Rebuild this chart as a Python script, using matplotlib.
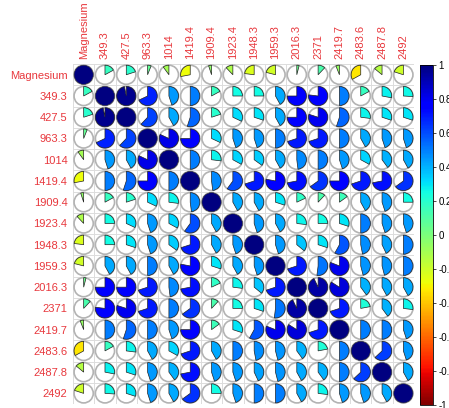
import numpy as np
import matplotlib
matplotlib.use('Agg')
import matplotlib.pyplot as plt
from matplotlib.patches import Wedge, Circle
from matplotlib.colors import Normalize
from matplotlib.cm import ScalarMappable

plt.rcParams['font.family'] = ['Liberation Sans', 'DejaVu Sans']

labels = ['Magnesium', '349.3', '427.5', '963.3', '1014', '1419.4', '1909.4',
          '1923.4', '1948.3', '1959.3', '2016.3', '2371', '2419.7', '2483.6',
          '2487.8', '2492']

# upper triangle of the correlation matrix, row by row (diagonal excluded)
upper = [
    [0.17, 0.20, 0.06, -0.10, -0.28, -0.05, -0.12, -0.23, -0.21, 0.04, 0.12, -0.06, -0.33, -0.14, -0.20],
    [0.97, 0.68, 0.45, 0.50, 0.17, 0.25, 0.25, 0.42, 0.75, 0.77, 0.50, 0.17, 0.28, 0.26],
    [0.62, 0.42, 0.55, 0.20, 0.32, 0.30, 0.42, 0.75, 0.80, 0.55, 0.27, 0.30, 0.30],
    [0.82, 0.75, 0.32, 0.45, 0.45, 0.50, 0.70, 0.70, 0.50, 0.42, 0.45, 0.45],
    [0.50, 0.27, 0.33, 0.35, 0.42, 0.48, 0.50, 0.45, 0.33, 0.40, 0.42],
    [0.48, 0.60, 0.70, 0.78, 0.72, 0.65, 0.75, 0.70, 0.72, 0.65],
    [0.42, 0.42, 0.30, 0.18, 0.12, 0.15, 0.42, 0.45, 0.25],
    [0.45, 0.42, 0.27, 0.25, 0.30, 0.50, 0.45, 0.45],
    [0.45, 0.36, 0.30, 0.58, 0.47, 0.43, 0.50],
    [0.70, 0.52, 0.81, 0.46, 0.46, 0.50],
    [0.93, 0.84, 0.40, 0.42, 0.42],
    [0.70, 0.22, 0.40, 0.27],
    [0.50, 0.50, 0.45],
    [0.63, 0.45],
    [0.42],
]

n = len(labels)
corr = np.eye(n)
for i, row in enumerate(upper):
    for k, v in enumerate(row):
        corr[i, i + 1 + k] = v
        corr[i + 1 + k, i] = v

cmap = plt.get_cmap('jet_r')
norm = Normalize(vmin=-1, vmax=1)
red = '#e8383d'

fig = plt.figure(figsize=(4.49, 4.08), dpi=100)
ax = fig.add_axes([0.1626, 0.0098, 0.7595, 0.833])

# cell grid
for k in range(n + 1):
    ax.axhline(k - 0.5, color='#dcdcdc', lw=0.7, zorder=0)
    ax.axvline(k - 0.5, color='#dcdcdc', lw=0.7, zorder=0)

rad = 0.45
for i in range(n):
    for j in range(n):
        r = corr[i, j]
        ax.add_patch(Circle((j, i), rad, facecolor='white', edgecolor='#b3b3b3',
                            lw=1.2, zorder=1))
        if abs(r) >= 0.999:
            ax.add_patch(Circle((j, i), rad, facecolor=cmap(norm(r)),
                                edgecolor='#333333', lw=0.4, zorder=2))
            continue
        span = 360 * abs(r)
        # y axis is inverted, so angles run the other way on screen
        if r > 0:
            t1, t2 = 270, 270 + span
        else:
            t1, t2 = 270 - span, 270
        ax.add_patch(Wedge((j, i), rad, t1, t2, facecolor=cmap(norm(r)),
                           edgecolor='#222222', lw=0.5, zorder=2))

ax.set_xlim(-0.5, n - 0.5)
ax.set_ylim(n - 0.5, -0.5)
ax.set_aspect('auto')
ax.set_xticks(range(n))
ax.set_yticks(range(n))
ax.set_xticklabels(labels, rotation=90, color=red, fontsize=8)
ax.set_yticklabels(labels, color=red, fontsize=8)
ax.xaxis.tick_top()
ax.tick_params(length=0, pad=4)
for s in ax.spines.values():
    s.set_visible(False)

cax = fig.add_axes([0.935, 0.0074, 0.029, 0.833])
sm = ScalarMappable(norm=norm, cmap=cmap)
cb = fig.colorbar(sm, cax=cax, ticks=np.arange(-1, 1.01, 0.2))
cb.ax.set_yticklabels(['-1', '-0.8', '-0.6', '-0.4', '-0.2', '0', '0.2', '0.4', '0.6', '0.8', '1'])
cb.ax.tick_params(labelsize=7, length=2, width=0.5, pad=2)
cb.outline.set_linewidth(0.6)

fig.savefig('out.png', dpi=100)
